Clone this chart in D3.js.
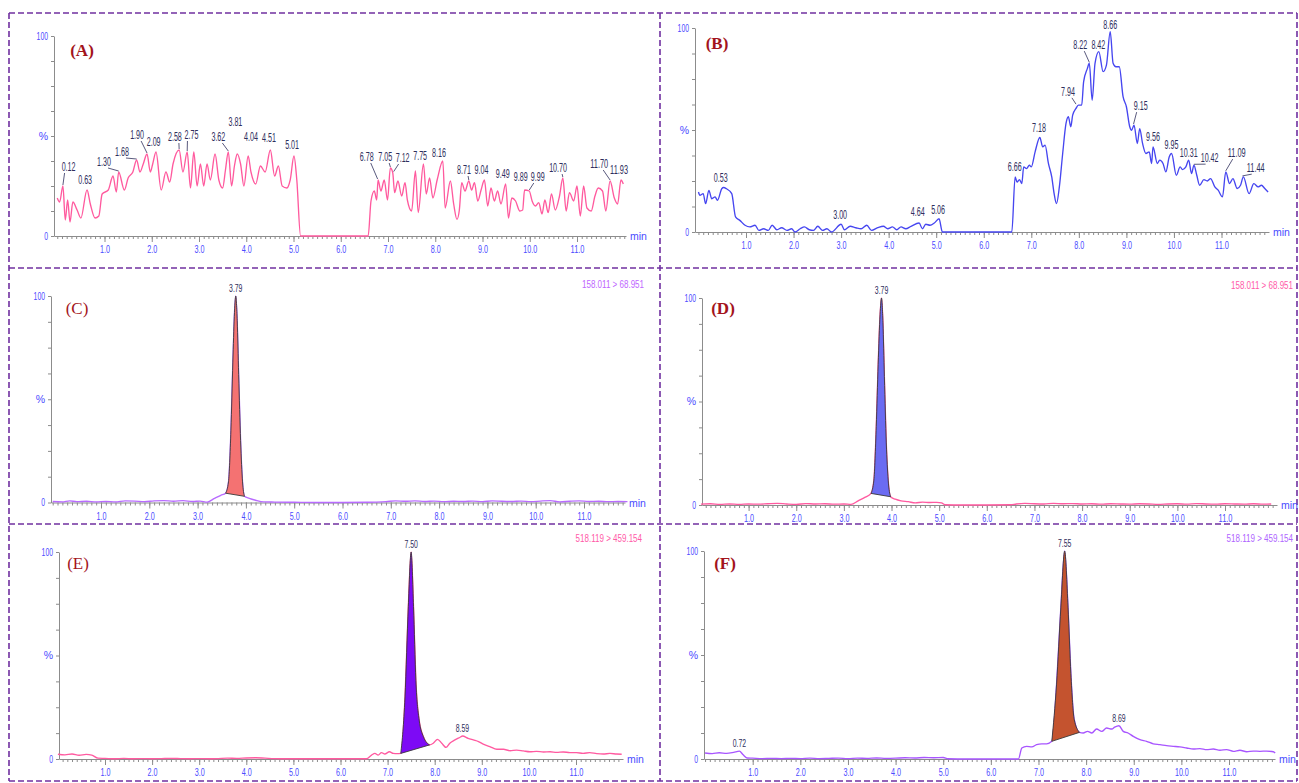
<!DOCTYPE html>
<html>
<head>
<meta charset="utf-8">
<script src="https://cdn.jsdelivr.net/npm/d3@7"></script>
<style>
  body { margin: 0; background: #fff; }
  svg { display: block; }
  text { font-family: "Liberation Sans Narrow", "Arial Narrow", "Liberation Sans", sans-serif; }
</style>
</head>
<body>
<svg id="chart" width="1299" height="783"></svg>
<script>
// ---- data: [time (min), intensity (%)] ----
const traceA = [[0.00,19],[0.05,17],[0.12,25],[0.17,8],[0.22,18],[0.27,7],[0.33,17],[0.42,13],[0.50,9],[0.63,23],[0.70,16],[0.80,9],[0.88,10],[0.95,21],[1.08,23],[1.18,30],[1.25,22],[1.30,32],[1.42,23],[1.50,29],[1.60,32],[1.68,38],[1.75,32],[1.82,36],[1.90,41],[1.97,32],[2.02,36],[2.09,42],[2.20,23],[2.30,32],[2.38,27],[2.45,36],[2.58,43],[2.66,32],[2.75,42],[2.82,24],[2.89,42],[2.96,25],[3.03,36],[3.10,25],[3.17,36],[3.24,28],[3.34,41],[3.42,28],[3.50,24],[3.56,33],[3.62,42],[3.69,25],[3.75,35],[3.81,41],[3.88,36],[3.95,25],[4.04,40],[4.10,32],[4.20,26],[4.30,35],[4.40,32],[4.51,43],[4.60,30],[4.68,35],[4.76,25],[4.86,24],[4.93,28],[5.01,40],[5.07,28],[5.15,0],[6.58,0],[6.64,17.5],[6.71,22.5],[6.76,18],[6.79,28],[6.85,22.5],[6.92,28],[6.99,18],[7.05,34],[7.10,31.7],[7.14,21.7],[7.21,27.5],[7.29,20],[7.36,26.7],[7.41,18],[7.50,12.5],[7.58,32.5],[7.64,11.7],[7.75,36],[7.81,21],[7.88,29],[7.95,19],[8.04,28],[8.16,37.5],[8.21,14],[8.32,27.5],[8.39,16],[8.46,8.3],[8.51,13],[8.56,26.7],[8.63,22.5],[8.71,27.5],[8.77,23],[8.83,26.7],[8.90,17.5],[8.97,23],[9.04,28],[9.11,15],[9.18,24],[9.25,17.5],[9.32,22.5],[9.39,16],[9.49,26],[9.55,9],[9.62,19],[9.70,17.5],[9.79,12.5],[9.85,13],[9.89,23],[9.99,22.5],[10.05,17.5],[10.12,15],[10.19,16.7],[10.26,11],[10.32,18],[10.39,11.7],[10.46,21],[10.54,13],[10.63,20],[10.70,29],[10.77,12.5],[10.84,21.7],[10.93,17.5],[11.00,25],[11.07,10],[11.14,25],[11.21,14],[11.30,12.5],[11.38,20],[11.45,24],[11.54,22.5],[11.61,12.5],[11.70,27.5],[11.79,19],[11.86,16],[11.93,28],[11.98,26]];

const traceB = [[0.00,19.6],[0.03,18],[0.10,18.8],[0.15,13.9],[0.22,20.4],[0.28,16.3],[0.35,17.2],[0.40,15.5],[0.49,21.2],[0.53,21.8],[0.59,21.2],[0.70,18.8],[0.78,7.4],[0.87,5.7],[0.98,3.3],[1.08,2.5],[1.19,3.3],[1.27,0.8],[1.37,1.6],[1.47,0.8],[1.55,3.3],[1.65,1.1],[1.75,2.1],[1.86,0.8],[1.96,1.6],[2.03,0],[2.14,1.6],[2.23,2.5],[2.33,1.1],[2.42,0.8],[2.51,2.8],[2.61,0.8],[2.70,1.6],[2.80,0],[3.00,3.8],[3.07,1.1],[3.19,2.8],[3.31,2.1],[3.42,1.6],[3.54,3.3],[3.64,0.8],[3.77,2.1],[3.89,2.8],[3.98,1.6],[4.08,2.5],[4.17,1.1],[4.26,2.5],[4.36,1.6],[4.47,2.8],[4.64,4.4],[4.71,1.6],[4.78,3.8],[4.87,3.3],[4.96,4.4],[5.06,6.5],[5.13,0],[6.59,0],[6.66,27],[6.70,24.5],[6.75,25.7],[6.80,23.7],[6.84,31.9],[6.90,31.1],[6.96,32.7],[7.00,31.9],[7.08,39.3],[7.18,46.3],[7.24,41.7],[7.29,42.6],[7.36,33.6],[7.43,27],[7.48,18.8],[7.53,13.9],[7.59,22.1],[7.66,38.5],[7.73,53.2],[7.78,56.5],[7.83,51.6],[7.87,57.3],[7.94,60.6],[7.99,62.2],[8.06,62.2],[8.10,73.6],[8.18,80.2],[8.22,82.7],[8.28,64.6],[8.34,82.7],[8.42,88.4],[8.51,78.6],[8.58,81.8],[8.66,98.2],[8.72,82.7],[8.78,81],[8.85,81],[8.93,66.3],[9.00,61.4],[9.07,51.6],[9.11,49.9],[9.16,52.4],[9.23,43.4],[9.28,50.7],[9.34,43.4],[9.41,38.5],[9.48,39.3],[9.53,33.6],[9.56,41.7],[9.65,33.6],[9.70,35.2],[9.77,33.6],[9.83,29.5],[9.90,36.8],[9.95,38.5],[10.05,27.8],[10.13,31.9],[10.18,30.6],[10.25,31.9],[10.31,35.2],[10.37,28.6],[10.42,32.7],[10.48,27.8],[10.54,22.9],[10.63,25.7],[10.70,25],[10.77,26.2],[10.86,22.1],[10.93,20.5],[11.02,17.2],[11.09,29.5],[11.17,23.7],[11.24,26.2],[11.33,21.3],[11.40,22.9],[11.46,27],[11.58,18.8],[11.68,23.7],[11.77,22.1],[11.84,22.9],[11.91,21.3],[11.98,19.6]];

const traceC = [[0.00,0.5],[0.2,0.3],[0.35,0.8],[0.5,0.4],[0.7,0.6],[0.9,0.3],[1.1,0.5],[1.3,0.3],[1.5,0.8],[1.7,0.7],[1.9,0.4],[2.1,0.8],[2.3,0.9],[2.5,0.6],[2.7,0.9],[2.9,0.5],[3.05,0.7],[3.2,0.2],[3.35,2.0],[3.48,3.5],[3.58,4.5],[3.64,10],[3.69,35],[3.73,68],[3.76,90],[3.79,100],[3.82,88],[3.85,62],[3.89,30],[3.93,10],[3.97,3.0],[4.07,2.0],[4.2,1.1],[4.37,0.3],[4.6,0.2],[5.0,0.1],[5.5,0],[6.0,0],[6.5,0.1],[6.7,0.2],[6.9,0.4],[7.1,0.8],[7.3,0.6],[7.5,0.8],[7.7,0.5],[7.9,0.7],[8.1,0.4],[8.3,0.6],[8.5,0.5],[8.7,0.7],[8.9,0.4],[9.1,0.8],[9.3,0.6],[9.5,0.5],[9.7,0.7],[9.9,0.4],[10.1,0.7],[10.3,0.9],[10.5,0.3],[10.7,0.6],[10.9,0.8],[11.1,0.5],[11.3,0.6],[11.5,0.4],[11.7,0.5],[11.9,0.4]];

const traceD = [[0.0,0.4],[0.2,0.6],[0.4,0.3],[0.6,0.5],[0.8,0.3],[1.0,0.5],[1.2,0.4],[1.4,0.6],[1.6,0.8],[1.8,0.5],[2.0,0.3],[2.2,0.7],[2.4,0.5],[2.6,0.6],[2.8,0.4],[3.0,0.5],[3.15,0.3],[3.3,2.0],[3.45,3.8],[3.57,5.6],[3.63,12],[3.68,38],[3.72,68],[3.76,92],[3.79,100],[3.82,88],[3.85,62],[3.89,30],[3.93,12],[3.98,4.0],[4.08,2.8],[4.2,2.0],[4.35,1.6],[4.5,1.0],[4.65,1.4],[4.8,1.2],[4.95,1.3],[5.05,1.0],[5.12,0.1],[5.5,0],[6.0,0],[6.5,0.1],[6.62,0.5],[6.8,0.8],[7.0,0.6],[7.2,0.5],[7.4,0.8],[7.6,0.6],[7.8,0.7],[8.0,0.5],[8.2,0.6],[8.4,0.4],[8.6,0.6],[8.8,0.5],[9.0,0.4],[9.2,0.6],[9.4,0.5],[9.6,0.3],[9.8,0.5],[10.0,0.6],[10.2,0.4],[10.4,0.7],[10.6,0.5],[10.8,0.4],[11.0,0.6],[11.2,0.5],[11.4,0.4],[11.6,0.6],[11.8,0.4],[11.97,0.5]];

const traceE = [[0.0,2.3],[0.15,2.0],[0.3,2.4],[0.45,1.8],[0.6,2.2],[0.72,1.9],[0.85,0.4],[1.0,0.3],[1.2,0.1],[1.4,0.3],[1.6,0.1],[1.8,0.2],[2.0,0.1],[2.2,0.2],[2.4,0.3],[2.6,0.2],[2.8,0.1],[3.0,0.2],[3.2,0.1],[3.4,0.2],[3.6,0.4],[3.8,0.3],[4.0,0.5],[4.2,0.6],[4.4,0.4],[4.6,0.2],[4.8,0.1],[5.0,0.1],[5.5,0.1],[6.0,0.1],[6.55,0.1],[6.66,1.9],[6.73,2.7],[6.80,1.9],[6.87,3.1],[6.94,2.4],[7.04,3.5],[7.12,2.7],[7.20,2.6],[7.28,2.7],[7.37,30],[7.44,73.6],[7.50,100],[7.55,73.6],[7.60,38],[7.67,18.8],[7.76,10.8],[7.89,6.8],[7.97,7.6],[8.06,9.5],[8.15,7.6],[8.24,5.6],[8.32,7.6],[8.43,9.2],[8.54,10.5],[8.59,11.1],[8.71,10],[8.82,9.2],[8.93,8.4],[9.03,7.2],[9.17,6],[9.32,4.7],[9.46,4.7],[9.60,4],[9.74,4.3],[9.88,3.9],[10.02,3.5],[10.16,3.7],[10.31,3.4],[10.45,3.5],[10.59,3.2],[10.73,3.4],[10.87,3.1],[11.01,3.1],[11.15,2.7],[11.29,3.1],[11.44,2.6],[11.58,2.4],[11.72,2.7],[11.86,2.4],[11.97,2.3]];

const traceF = [[0.0,2.9],[0.15,2.6],[0.3,3.0],[0.45,2.7],[0.6,3.2],[0.72,3.8],[0.80,2.0],[0.88,0.5],[1.0,0.4],[1.2,0.2],[1.4,0.3],[1.6,0.2],[1.8,0.3],[2.0,0.2],[2.2,0.4],[2.4,0.2],[2.6,0.3],[2.8,0.4],[3.0,0.2],[3.2,0.4],[3.4,0.3],[3.6,0.5],[3.8,0.3],[4.0,0.4],[4.2,0.6],[4.4,0.5],[4.6,0.7],[4.8,0.6],[5.0,0.7],[5.1,0.1],[5.5,0],[6.0,0],[6.58,0],[6.65,5.3],[6.75,6.1],[6.86,5.8],[6.96,6.9],[7.07,7.3],[7.17,7.3],[7.28,8.5],[7.38,36],[7.47,73],[7.55,100],[7.62,73],[7.68,41],[7.75,19],[7.86,12.8],[7.94,12.5],[8.03,13.3],[8.12,12.5],[8.22,14.4],[8.33,13.3],[8.43,14.9],[8.54,14.4],[8.60,15.3],[8.69,16],[8.78,13.3],[8.88,12.5],[8.99,10.9],[9.13,9.3],[9.27,8.5],[9.41,7.3],[9.55,6.9],[9.69,6.4],[9.83,6.1],[9.97,5.8],[10.11,5.3],[10.25,4.8],[10.39,5],[10.53,4.5],[10.67,4.8],[10.81,4.2],[10.95,4.5],[11.09,3.7],[11.23,4.2],[11.37,3.5],[11.51,3.8],[11.65,3.7],[11.79,3.8],[11.93,3.5],[11.97,2.9]];

// peak labels: [retention time, label time, label level %]
const peaksA = [[0.12,0.24,34.5],[0.63,0.59,28],[1.30,0.99,37],[1.68,1.37,42],[1.90,1.69,50.5],[2.09,2.04,47],[2.58,2.49,49.5],[2.75,2.84,50.5],[3.62,3.41,49.5],[3.81,3.77,57],[4.04,4.10,49.5],[4.51,4.48,49],[5.01,4.97,45.5],[6.78,6.55,39.5],[7.05,6.94,39.5],[7.12,7.31,39],[7.75,7.68,40],[8.16,8.08,41.5],[8.71,8.61,33],[9.04,8.98,33],[9.49,9.43,31],[9.89,9.81,29.5],[9.99,10.17,29.5],[10.70,10.60,34],[11.70,11.47,36],[11.93,11.89,33]];
const peaksB = [[0.53,0.47,26.6],[3.00,2.98,8.2],[4.64,4.61,9.8],[5.06,5.04,10.6],[6.66,6.65,32],[7.18,7.16,50.9],[7.94,7.77,68.7],[8.22,8.03,91.6],[8.42,8.41,91.6],[8.66,8.66,101.5],[9.15,9.30,61.7],[9.56,9.56,46.6],[9.95,9.95,42.6],[10.31,10.31,38.8],[10.42,10.75,36.2],[11.09,11.32,38.7],[11.44,11.72,31.3]];
const peaksC = [3.79];
const peaksD = [3.79];
const peaksE = [7.50, 8.59];
const peaksF = [0.72, 7.55, 8.69];

// integrated peak windows [start, end] (min)
const fillC = [3.58, 3.97];
const fillD = [3.57, 3.98];
const fillE = [7.28, 7.89];
const fillF = [7.28, 7.86];

const xTickValues = [1, 2, 3, 4, 5, 6, 7, 8, 9, 10, 11];
const yTickValues = [0, 12.5, 25, 37.5, 50, 62.5, 75, 87.5, 100];
const yTickLabels = {0: "0", 50: "%", 100: "100"};

const panels = [
    {tag: "(A)", bold: true, trace: traceA, color: "#ff5a9e", peaks: peaksA, placed: true,
     x1: 104.5, x11: 577, axisL: 54, axisR: 626, yTop: 36, yBot: 236, tagX: 82, tagY: 50},
    {tag: "(B)", bold: true, trace: traceB, color: "#4646f0", peaks: peaksB, placed: true,
     x1: 746, x11: 1221.5, axisL: 695, axisR: 1269, yTop: 28, yBot: 232, tagX: 717, tagY: 43},
    {tag: "(C)", bold: false, trace: traceC, color: "#b86bff", peaks: peaksC, fill: fillC, fillColor: "#f47272",
     x1: 101, x11: 584, axisL: 51, axisR: 625, yTop: 296, yBot: 502.5, tagX: 77, tagY: 308,
     mrm: "158.011 > 68.951", mrmColor: "#c066ff", mrmX: 644, mrmY: 284},
    {tag: "(D)", bold: true, trace: traceD, color: "#ff5aa0", peaks: peaksD, fill: fillD, fillColor: "#6b6bf2",
     x1: 748.6, x11: 1225, axisL: 702, axisR: 1277, yTop: 298, yBot: 505, tagX: 723, tagY: 308,
     mrm: "158.011 > 68.951", mrmColor: "#ff5aa8", mrmX: 1293, mrmY: 285},
    {tag: "(E)", bold: false, trace: traceE, color: "#ff5aa0", peaks: peaksE, fill: fillE, fillColor: "#7d0af5",
     x1: 105, x11: 576, axisL: 59, axisR: 623, yTop: 552, yBot: 759, tagX: 78, tagY: 563,
     mrm: "518.119 > 459.154", mrmColor: "#ff5aa8", mrmX: 642, mrmY: 538},
    {tag: "(F)", bold: true, trace: traceF, color: "#a855ff", peaks: peaksF, fill: fillF, fillColor: "#c4532f",
     x1: 752.7, x11: 1229, axisL: 704, axisR: 1275, yTop: 551, yBot: 759, tagX: 725, tagY: 563,
     mrm: "518.119 > 459.154", mrmColor: "#b066ff", mrmX: 1293, mrmY: 538}
];

const svg = d3.select("#chart");
const axisGrey = "#8c8c8c";
const tickBlue = "#4a4aff";
const labelInk = "#2e2e5c";

// squeeze numbers to the tall, narrow look of the instrument software
function narrow(sel, charW, dotW) {
    sel.each(function () {
        const t = d3.select(this);
        const s = t.text();
        if (!/^[0-9. >]+$/.test(s)) return;  // leave "%" and words alone
        const w = Array.from(s).reduce((acc, c) => acc + (c === "." || c === " " ? dotW : charW), 0);
        t.attr("textLength", w).attr("lengthAdjust", "spacingAndGlyphs");
    });
}

// dashed frame around the six panels
const frame = svg.append("g").attr("class", "frame")
    .attr("stroke", "#7030a0").attr("stroke-width", 1.6)
    .attr("stroke-dasharray", "6,3").attr("fill", "none");
[[9, 13, 1297, 13], [9, 268, 1297, 268], [9, 524, 1297, 524], [9, 781, 1297, 781],
 [9, 13, 9, 781], [660, 13, 660, 781], [1297, 13, 1297, 781]].forEach(l => {
    frame.append("line").attr("x1", l[0]).attr("y1", l[1]).attr("x2", l[2]).attr("y2", l[3]);
});

function peakApex(trace, rt) {
    const near = trace.filter(d => Math.abs(d[0] - rt) <= 0.06);
    return d3.max(near, d => d[1]);
}

function drawPanel(p) {
    const g = svg.append("g");

    const x = d3.scaleLinear().domain([1, 11]).range([p.x1, p.x11]);
    x.domain([x.invert(p.axisL), x.invert(p.axisR)]).range([p.axisL, p.axisR]);
    const y = d3.scaleLinear().domain([0, 100]).range([p.yBot, p.yTop]);

    // minor ticks every 0.1 min
    const minor = d3.range(Math.ceil(x.domain()[0] * 10), Math.floor(x.domain()[1] * 10) + 1).map(i => i / 10);
    g.append("g")
        .attr("transform", `translate(0,${p.yBot})`)
        .call(d3.axisBottom(x).tickValues(minor).tickSize(3).tickSizeOuter(0).tickFormat(""))
        .call(a => a.selectAll("line").attr("stroke", axisGrey))
        .call(a => a.select(".domain").attr("stroke", axisGrey));

    // major ticks and labels
    g.append("g")
        .attr("transform", `translate(0,${p.yBot})`)
        .call(d3.axisBottom(x).tickValues(xTickValues).tickSize(6).tickSizeOuter(0).tickFormat(d3.format(".1f")))
        .call(a => a.select(".domain").remove())
        .call(a => a.selectAll("line").attr("stroke", axisGrey))
        .call(a => a.selectAll("text").attr("fill", tickBlue).attr("font-size", 11).attr("dy", "0.75em")
            .call(narrow, 3.9, 2.2));

    g.append("text")
        .attr("x", p.axisR + 4).attr("y", p.yBot + 4)
        .attr("fill", tickBlue).attr("font-size", 10.5)
        .text("min");

    // y axis
    g.append("g")
        .attr("transform", `translate(${p.axisL},0)`)
        .call(d3.axisLeft(y).tickValues(yTickValues).tickSize(3).tickSizeOuter(0)
            .tickFormat(d => yTickLabels[d] || ""))
        .call(a => a.select(".domain").attr("stroke", axisGrey))
        .call(a => a.selectAll("line").attr("stroke", axisGrey))
        .call(a => a.selectAll("text").attr("fill", tickBlue).attr("font-size", 10.5).call(narrow, 3.8, 2));

    const line = d3.line().curve(d3.curveMonotoneX).x(d => x(d[0])).y(d => y(d[1]));

    g.append("path")
        .datum(p.trace)
        .attr("d", line)
        .attr("fill", "none")
        .attr("stroke", p.color)
        .attr("stroke-width", 1.35)
        .attr("stroke-linejoin", "round");

    // integrated peak: trace segment closed by a straight baseline
    if (p.fill) {
        const seg = p.trace.filter(d => d[0] >= p.fill[0] && d[0] <= p.fill[1]);
        g.append("path")
            .datum(seg)
            .attr("d", d => line(d) + "Z")
            .attr("fill", p.fillColor)
            .attr("stroke", "#3a3a3a")
            .attr("stroke-width", 0.9)
            .attr("stroke-linejoin", "round");
    }

    // peak annotations
    const labels = g.append("g").attr("fill", labelInk);
    if (p.placed) {
        p.peaks.forEach(pk => {
            const [rt, lt, lv] = pk;
            const tx = x(lt), ty = y(lv);
            labels.append("text")
                .attr("x", tx).attr("y", ty)
                .attr("text-anchor", "middle").attr("dominant-baseline", "central")
                .attr("font-size", 12.5)
                .text(rt.toFixed(2))
                .call(narrow, 4.0, 1.9);
            const ax = x(rt), ay = y(peakApex(p.trace, rt)) - 1;
            if (Math.abs(ax - tx) >= 4) {
                labels.append("line")
                    .attr("x1", tx + (ax > tx ? 4 : -4)).attr("y1", ty + 6)
                    .attr("x2", ax).attr("y2", ay)
                    .attr("stroke", labelInk).attr("stroke-width", 0.8);
            }
        });
    } else {
        p.peaks.forEach(rt => {
            labels.append("text")
                .attr("x", x(rt)).attr("y", y(peakApex(p.trace, rt)) - 4)
                .attr("text-anchor", "middle")
                .attr("font-size", 10.5)
                .text(rt.toFixed(2))
                .call(narrow, 3.8, 2);
        });
    }

    if (p.mrm) {
        g.append("text")
            .attr("x", p.mrmX).attr("y", p.mrmY)
            .attr("text-anchor", "end").attr("dominant-baseline", "central")
            .attr("fill", p.mrmColor).attr("font-size", 10)
            .text(p.mrm)
            .call(narrow, 4.4, 2.3);
    }

    g.append("text")
        .attr("x", p.tagX).attr("y", p.tagY)
        .attr("text-anchor", "middle").attr("dominant-baseline", "central")
        .attr("fill", "#a3141c")
        .attr("font-size", 17)
        .attr("font-weight", p.bold ? "bold" : "normal")
        .style("font-family", "'Liberation Serif','DejaVu Serif',serif")
        .text(p.tag);
}

panels.forEach(drawPanel);
</script>
</body>
</html>
